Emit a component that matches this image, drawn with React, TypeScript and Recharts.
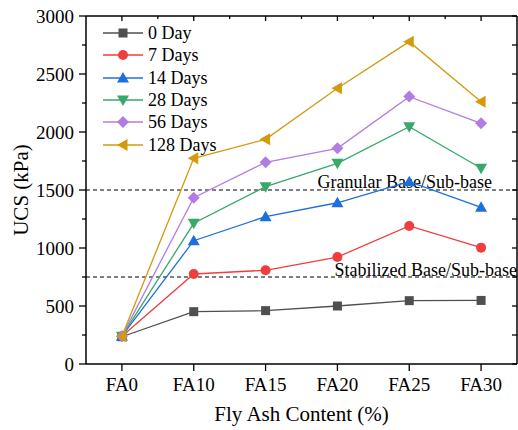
import React from "react";
import {
  LineChart,
  Line,
  XAxis,
  YAxis,
  ReferenceLine,
  Legend,
} from "recharts";

// tick labels and values
const categories = ["FA0", "FA10", "FA15", "FA20", "FA25", "FA30"];
const day0 = [235, 451, 460, 500, 546, 548];
const day7 = [240, 776, 808, 922, 1190, 1003];
const day14 = [240, 1063, 1270, 1390, 1572, 1351];
const day28 = [240, 1213, 1529, 1730, 2046, 1687];
const day56 = [240, 1434, 1739, 1859, 2305, 2075];
const day128 = [240, 1773, 1937, 2377, 2779, 2261];

const yTicks = [0, 250, 500, 750, 1000, 1250, 1500, 1750, 2000, 2250, 2500, 2750, 3000];
const xTicks = [0, 1, 2, 3, 4, 5];
// integer = category, half = minor tick on the top frame, 5.5 = right frame edge
const frameXTicks = [0, 0.5, 1, 1.5, 2, 2.5, 3, 3.5, 4, 4.5, 5, 5.5];
const xDomain = [-0.5, 5.5];
const yDomain = [0, 3000];

const granularLimit = 1500;
const stabilizedLimit = 750;

const FONT = '"Liberation Serif", "Times New Roman", serif';

const series = [
  { key: "d0", name: "0 Day", values: day0, color: "#4f4f4f", shape: "square" },
  { key: "d7", name: "7 Days", values: day7, color: "#f03e3e", shape: "circle" },
  { key: "d14", name: "14 Days", values: day14, color: "#1c6fdc", shape: "up" },
  { key: "d28", name: "28 Days", values: day28, color: "#37a96a", shape: "down" },
  { key: "d56", name: "56 Days", values: day56, color: "#b27de3", shape: "diamond" },
  { key: "d128", name: "128 Days", values: day128, color: "#d39a0b", shape: "left" },
];

const data = categories.map((c, i) => {
  const row: Record<string, any> = { cat: c, idx: i };
  series.forEach((s) => (row[s.key] = s.values[i]));
  return row;
});

function Marker({ shape, cx, cy, color }: any) {
  if (cx == null || cy == null) return null;
  switch (shape) {
    case "square":
      return <rect x={cx - 4.5} y={cy - 4.5} width={9} height={9} fill={color} />;
    case "circle":
      return <circle cx={cx} cy={cy} r={5} fill={color} />;
    case "up":
      return <polygon points={`${cx},${cy - 6} ${cx + 6},${cy + 4.5} ${cx - 6},${cy + 4.5}`} fill={color} />;
    case "down":
      return <polygon points={`${cx},${cy + 6} ${cx + 6},${cy - 4.5} ${cx - 6},${cy - 4.5}`} fill={color} />;
    case "diamond":
      return <polygon points={`${cx},${cy - 6} ${cx + 6},${cy} ${cx},${cy + 6} ${cx - 6},${cy}`} fill={color} />;
    default:
      return <polygon points={`${cx - 6},${cy} ${cx + 4.5},${cy - 6} ${cx + 4.5},${cy + 6}`} fill={color} />;
  }
}

// left axis: labelled majors every 500, short minors in between
const LeftTick = (props: any) => {
  const { x, y, payload } = props;
  const axisX = x + 7 + 5;
  const major = payload.value % 500 === 0;
  return (
    <g>
      <line x1={axisX} x2={axisX - (major ? 7 : 4)} y1={y} y2={y} stroke="#000" strokeWidth={1.3} />
      {major && (
        <text x={x} y={y} dy="0.35em" textAnchor="end" fontSize={19} fontFamily={FONT} fill="#000">
          {payload.value}
        </text>
      )}
    </g>
  );
};

// top frame pieces, drawn from vertical reference lines (viewBox = plot height at that x)
const topFrameMark = (t: number) => (props: any) => {
  const vb = props.viewBox;
  if (!vb) return null;
  if (t === xDomain[1]) {
    return <line x1={vb.x} x2={vb.x} y1={vb.y} y2={vb.y + vb.height} stroke="#000" strokeWidth={1.5} />;
  }
  const len = Number.isInteger(t) ? 5 : 3;
  return <line x1={vb.x} x2={vb.x} y1={vb.y} y2={vb.y + len} stroke="#000" strokeWidth={1.3} />;
};

// right frame pieces, drawn from horizontal reference lines (viewBox = plot width at that y)
const rightFrameMark = (t: number) => (props: any) => {
  const vb = props.viewBox;
  if (!vb) return null;
  const xr = vb.x + vb.width;
  return (
    <g>
      <line x1={xr} x2={xr - 5} y1={vb.y} y2={vb.y} stroke="#000" strokeWidth={1.3} />
      {t === yDomain[1] && (
        <line x1={vb.x} x2={xr} y1={vb.y} y2={vb.y} stroke="#000" strokeWidth={1.5} />
      )}
    </g>
  );
};

const LegendBox = () => (
  <div style={{ fontFamily: FONT, fontSize: 18, color: "#000" }}>
    {series.map((s) => (
      <div key={s.key} style={{ display: "flex", alignItems: "center", height: 22.3 }}>
        <svg width={42} height={22} style={{ display: "block" }}>
          <line x1={0} x2={40} y1={11} y2={11} stroke={s.color} strokeWidth={1.6} />
          <Marker shape={s.shape} cx={20} cy={11} color={s.color} />
        </svg>
        <span style={{ marginLeft: 3, lineHeight: "22px" }}>{s.name}</span>
      </div>
    ))}
  </div>
);

const refLabel = (text: string, dx: number, dy: number) => (props: any) => {
  const vb = props.viewBox;
  return (
    <text
      x={vb.x + vb.width + dx}
      y={vb.y + dy}
      textAnchor="end"
      fontSize={18}
      fontFamily={FONT}
      fill="#000"
    >
      {text}
    </text>
  );
};

const yTitle = (props: any) => {
  const vb = props.viewBox;
  const cx = 28;
  const cy = vb.y + vb.height / 2;
  return (
    <text
      x={cx}
      y={cy}
      transform={`rotate(-90 ${cx} ${cy})`}
      textAnchor="middle"
      fontSize={21}
      fontFamily={FONT}
      fill="#000"
    >
      UCS (kPa)
    </text>
  );
};

export default function App() {
  return (
    <div style={{ position: "absolute", left: 0, top: 0, background: "#fff" }}>
      <LineChart
        width={518}
        height={430}
        data={data}
        margin={{ top: 16, right: 1, bottom: 0, left: 0 }}
      >
        <XAxis
          dataKey="idx"
          type="number"
          domain={xDomain}
          ticks={xTicks}
          interval={0}
          tickFormatter={(v: number) => categories[v] ?? ""}
          height={66}
          tickSize={7}
          tickMargin={7}
          axisLine={{ stroke: "#000", strokeWidth: 1.5 }}
          tickLine={{ stroke: "#000", strokeWidth: 1.3 }}
          tick={{ fill: "#000", fontSize: 19, fontFamily: FONT }}
          label={{
            value: "Fly Ash Content (%)",
            position: "insideBottom",
            offset: 9,
            fill: "#000",
            fontSize: 21,
            fontFamily: FONT,
          }}
        />
        <YAxis
          width={86}
          domain={yDomain}
          ticks={yTicks}
          interval={0}
          tickSize={7}
          tickMargin={5}
          tickLine={false}
          tick={<LeftTick />}
          axisLine={{ stroke: "#000", strokeWidth: 1.5 }}
          label={yTitle}
        />

        {/* frame: top edge + inward ticks */}
        {frameXTicks.map((t) => (
          <ReferenceLine
            key={`tf-${t}`}
            x={t}
            stroke="none"
            ifOverflow="visible"
            label={topFrameMark(t)}
          />
        ))}
        {/* frame: right edge ticks + top line */}
        {yTicks.map((t) => (
          <ReferenceLine
            key={`rf-${t}`}
            y={t}
            stroke="none"
            ifOverflow="visible"
            label={rightFrameMark(t)}
          />
        ))}

        <ReferenceLine
          y={granularLimit}
          stroke="#000"
          strokeDasharray="4 3"
          strokeWidth={1}
          label={refLabel("Granular Base/Sub-base", -25, -2)}
        />
        <ReferenceLine
          y={stabilizedLimit}
          stroke="#000"
          strokeDasharray="4 3"
          strokeWidth={1}
          label={refLabel("Stabilized Base/Sub-base", 0, -1)}
        />
        <Legend
          layout="vertical"
          align="center"
          verticalAlign="middle"
          content={<LegendBox />}
          wrapperStyle={{ left: 103, top: 22, width: "auto", height: "auto" }}
        />
        {series.map((s) => (
          <Line
            key={s.key}
            dataKey={s.key}
            name={s.name}
            stroke={s.color}
            strokeWidth={1.3}
            isAnimationActive={false}
            dot={(p: any) => (
              <Marker key={`${s.key}-${p.index}`} shape={s.shape} cx={p.cx} cy={p.cy} color={s.color} />
            )}
            activeDot={false}
          />
        ))}
      </LineChart>
    </div>
  );
}
